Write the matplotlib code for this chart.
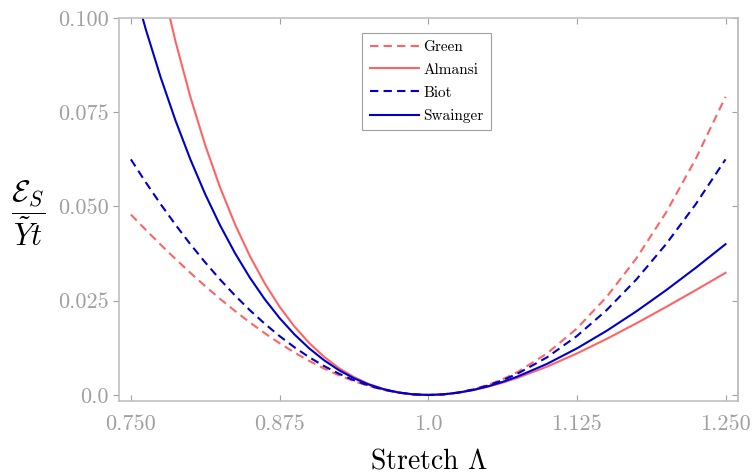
import numpy as np
import matplotlib
matplotlib.use('Agg')
import matplotlib.pyplot as plt

plt.rcParams['font.family'] = 'serif'
plt.rcParams['font.serif'] = ['cmr10']
plt.rcParams['mathtext.fontset'] = 'cm'
plt.rcParams['axes.formatter.use_mathtext'] = True

# stretch values (finer where the curves bend most)
stretch = [0.75, 0.7625, 0.775, 0.7875, 0.8, 0.8125, 0.825, 0.8375, 0.85, 0.8625,
           0.875, 0.8875, 0.9, 0.9125, 0.925, 0.9375, 0.95, 0.9625, 0.975, 0.9875,
           1.0, 1.0125, 1.025, 1.0375, 1.05, 1.0625, 1.075,
           1.1, 1.125, 1.15, 1.175, 1.2, 1.225, 1.25]

green = [0.04785, 0.04381, 0.03988, 0.03607, 0.0324, 0.02887, 0.0255, 0.02229, 0.01925, 0.0164,
         0.01373, 0.01127, 0.00903, 0.0070, 0.00521, 0.00367, 0.00238, 0.00135, 0.00061, 0.00015,
         0.0, 0.00016, 0.00064, 0.00146, 0.00263, 0.00415, 0.00606,
         0.01103, 0.01764, 0.026, 0.03622, 0.0484, 0.06266, 0.0791]
almansi = [0.1512, 0.1296, 0.1105, 0.0938, 0.0791, 0.06625, 0.05505, 0.04531, 0.03688, 0.02963,
           0.02343, 0.01817, 0.01376, 0.0101, 0.00712, 0.00475, 0.00292, 0.00158, 0.00067, 0.00016,
           0.0, 0.00015, 0.00058, 0.00126, 0.00216, 0.00326, 0.00453,
           0.00753, 0.01101, 0.01487, 0.019, 0.02334, 0.02782, 0.0324]
biot = [0.0625, 0.05641, 0.05063, 0.04516, 0.04, 0.03516, 0.03063, 0.02641, 0.0225, 0.01891,
        0.01563, 0.01266, 0.01, 0.00766, 0.00563, 0.00391, 0.0025, 0.00141, 0.00063, 0.00016,
        0.0, 0.00016, 0.00063, 0.00141, 0.0025, 0.00391, 0.00563,
        0.01, 0.01563, 0.0225, 0.03063, 0.04, 0.05063, 0.0625]
swainger = [0.1111, 0.09702, 0.08429, 0.07281, 0.0625, 0.05325, 0.045, 0.03765, 0.03114, 0.02542,
            0.02041, 0.01607, 0.01235, 0.0092, 0.00657, 0.00444, 0.00277, 0.00152, 0.00066, 0.00016,
            0.0, 0.00015, 0.0006, 0.00131, 0.00227, 0.00346, 0.00487,
            0.00826, 0.01235, 0.01701, 0.02218, 0.02778, 0.03374, 0.04]

xticks = [0.75, 0.875, 1.0, 1.125, 1.25]
xticklabels = ['0.750', '0.875', '1.0', '1.125', '1.250']
yticks = [0.0, 0.025, 0.05, 0.075, 0.1]
yticklabels = ['0.0', '0.025', '0.050', '0.075', '0.100']

red = '#ff6464'
blue = '#0000cc'
grey = '#a0a0a0'

fig = plt.figure(figsize=(7.52, 4.74), dpi=100)
ax = fig.add_axes([119/752, 1-401/474, 619/752, 383/474])

ax.plot(stretch, green, color=red, lw=1.5, dashes=(4, 2.5), label='Green')
ax.plot(stretch, almansi, color=red, lw=1.5, label='Almansi')
ax.plot(stretch, biot, color=blue, lw=1.5, dashes=(4, 2.5), label='Biot')
ax.plot(stretch, swainger, color=blue, lw=1.5, label='Swainger')

ax.set_xlim(0.74, 1.2605)
ax.set_ylim(-0.0016, 0.1)
ax.set_xticks(xticks, xticklabels)
ax.set_yticks(yticks, yticklabels)
for s in ax.spines.values():
    s.set_color('#c0c0c0'); s.set_linewidth(1.2)
ax.tick_params(axis='both', colors=grey, labelsize=16, length=4, width=0.8,
               direction='in', top=True)
ax.tick_params(axis='y', direction='out', right=False)
ax.tick_params(axis='x', pad=10)

# inward ticks on the right edge, no labels
sec = ax.secondary_yaxis('right')
sec.set_yticks(yticks, [''] * len(yticks))
sec.tick_params(direction='in', length=4, width=0.8, colors=grey)
sec.spines['right'].set_color('#c0c0c0'); sec.spines['right'].set_linewidth(1.2)

ax.set_xlabel(r'Stretch $\Lambda$', fontsize=20, labelpad=10)
ax.set_ylabel(r'$\dfrac{\mathcal{E}_S}{\tilde{Y}t}$', fontsize=22, rotation=0,
              va='center', ha='center')
ax.yaxis.set_label_coords(-0.147, 0.49)

leg = ax.legend(loc='upper left', bbox_to_anchor=(0.393, 0.962), fontsize=11,
                handlelength=3.2, fancybox=False, framealpha=1, borderpad=0.5,
                labelspacing=0.6, handletextpad=0.3, borderaxespad=0)
leg.get_frame().set_edgecolor('#a0a0a0')
leg.get_frame().set_linewidth(0.8)

fig.savefig('out.png', dpi=100)
